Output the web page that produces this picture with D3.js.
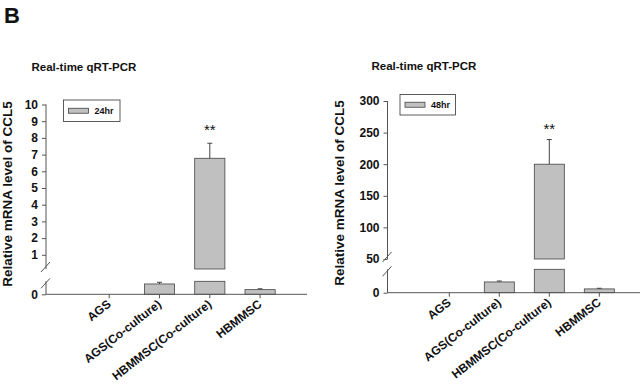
<!DOCTYPE html>
<html><head><meta charset="utf-8">
<script src="https://cdn.jsdelivr.net/npm/d3@7"></script>
<style>
body{margin:0;background:#fff;}
text{font-family:"Liberation Sans",Arial,sans-serif;font-weight:bold;fill:#111;}
</style></head>
<body><svg id="c" width="643" height="387"></svg>
<script>
// ---- data ----
const categories = ["AGS","AGS(Co-culture)","HBMMSC(Co-culture)","HBMMSC"];
const means24 = [0, 0.62, 6.78, 0.28];
const errors24 = [0, 0.1, 0.9, 0.05];
const means48 = [0, 17, 200, 6];
const errors48 = [0, 1.5, 39, 1];
const upperTicks24 = [1,2,3,4,5,6,7,8,9,10];
const lowerTicks24 = [0];
const upperTicks48 = [50,100,150,200,250,300];
const lowerTicks48 = [0];
const legend24 = "24hr", legend48 = "48hr";
const title = "Real-time qRT-PCR";
const yLabel = "Relative mRNA level of CCL5";
const sig = "**";

const svg = d3.select("#c");
svg.append("text").attr("x",4).attr("y",23).style("font-size","22px").text("B");

function panel(o){
  const g = svg.append("g");
  const x = d3.scaleBand().domain(categories).range(o.xr).padding(0.4);
  const yU = d3.scaleLinear().domain(o.upperDom).range(o.upperR);
  const yL = d3.scaleLinear().domain(o.lowerDom).range(o.lowerR);
  const ax = o.axisX, col = "#555";
  g.append("text").attr("x",o.titleX).attr("y",o.titleY).style("font-size","11.5px").text(title);
  g.append("text").attr("transform",`translate(${o.labX},${o.labY}) rotate(-90)`)
    .attr("text-anchor","middle").style("font-size","13.5px").text(yLabel);
  o.means.forEach((v,i)=>{
    const c = categories[i], bx = x(c), bw = x.bandwidth();
    if(v<=0) return;
    const lowTop = Math.min(v, o.lowerDom[1]);
    g.append("rect").attr("x",bx).attr("width",bw)
      .attr("y",yL(lowTop)).attr("height",yL(0)-yL(lowTop))
      .attr("fill","#c0c0c0").attr("stroke","#444").attr("stroke-width",0.8);
    const broken = v>o.lowerDom[1];
    let topY = yL(v);
    if(broken){
      g.append("rect").attr("x",bx).attr("width",bw)
        .attr("y",yU(v)).attr("height",yU(o.upperDom[0])-yU(v))
        .attr("fill","#c0c0c0").attr("stroke","#444").attr("stroke-width",0.8);
      topY = yU(v);
    }
    const e = o.errs[i];
    const sc = broken? yU : yL;
    const cx = bx+bw/2, ey = sc(v+e);
    g.append("line").attr("x1",cx).attr("x2",cx).attr("y1",topY).attr("y2",ey).attr("stroke","#444");
    g.append("line").attr("x1",cx-2.5).attr("x2",cx+2.5).attr("y1",ey).attr("y2",ey).attr("stroke","#444");
    if(i===2){
      g.append("text").attr("x",cx).attr("y",o.sigY).attr("text-anchor","middle")
        .style("font-size","15px").style("font-weight","normal").text(sig);
    }
  });
  const fmt = d3.format("d");
  const aU = g.append("g").attr("transform",`translate(${ax},0)`)
    .call(d3.axisLeft(yU).tickValues(o.upperTicks).tickFormat(fmt).tickSize(4).tickPadding(4));
  const aL = g.append("g").attr("transform",`translate(${ax},0)`)
    .call(d3.axisLeft(yL).tickValues(o.lowerTicks).tickFormat(fmt).tickSize(4).tickPadding(4));
  [aU,aL].forEach(a=>{
    a.select(".domain").remove();
    a.selectAll("line").attr("stroke",col);
    a.selectAll("text").style("font-size","12px").style("font-family","Liberation Sans,Arial,sans-serif").style("font-weight","bold").attr("fill","#111");
  });
  g.append("line").attr("x1",ax).attr("x2",ax).attr("y1",o.upperR[1]).attr("y2",o.upperR[0]).attr("stroke",col);
  g.append("line").attr("x1",ax).attr("x2",ax).attr("y1",o.lowerR[1]).attr("y2",o.lowerR[0]).attr("stroke",col);
  [o.upperR[0], o.lowerR[1]].forEach((yy,k)=>{
    const off = k===0? -2 : 2;
    g.append("line").attr("x1",ax-5).attr("x2",ax+4).attr("y1",yy+off+5).attr("y2",yy+off-5)
      .attr("stroke",col);
  });
  const xa = g.append("g").attr("transform",`translate(0,${o.lowerR[0]})`)
    .call(d3.axisBottom(x).tickSize(4).tickFormat(""));
  xa.select(".domain").remove();
  xa.selectAll("line").attr("stroke",col);
  g.append("line").attr("x1",ax).attr("x2",o.xEnd).attr("y1",o.lowerR[0]).attr("y2",o.lowerR[0]).attr("stroke",col);
  categories.forEach(c=>{
    g.append("text").attr("transform",`translate(${x(c)+x.bandwidth()/2},${o.lowerR[0]+8}) rotate(-38)`)
      .attr("text-anchor","end").attr("dy","0.35em").style("font-size","12px").text(c);
  });
  const L = o.leg;
  g.append("rect").attr("x",L[0]).attr("y",L[1]).attr("width",L[2]).attr("height",L[3])
    .attr("fill","#fff").attr("stroke","#333").attr("stroke-width",0.8);
  g.append("rect").attr("x",L[0]+5).attr("y",L[1]+L[3]/2-2.5).attr("width",20).attr("height",5)
    .attr("fill","#c0c0c0").attr("stroke","#444").attr("stroke-width",0.8);
  g.append("text").attr("x",L[0]+31).attr("y",L[1]+L[3]/2+3.5).style("font-size","9px").text(o.legText);
}

panel({xr:[74,295.3], upperDom:[0.15,10], upperR:[269,104.5], lowerDom:[0,0.78], lowerR:[294.3,281.3],
  axisX:46, xEnd:307, means:means24, errs:errors24, upperTicks:upperTicks24, lowerTicks:lowerTicks24,
  titleX:31.5, titleY:71, labX:12, labY:194, sigY:135, leg:[63.5,100,56.5,21.5], legText:legend24});
panel({xr:[414.3,634.3], upperDom:[50,300], upperR:[259,101], lowerDom:[0,37], lowerR:[292.7,269.3],
  axisX:387.5, xEnd:640, means:means48, errs:errors48, upperTicks:upperTicks48, lowerTicks:lowerTicks48,
  titleX:371.5, titleY:70, labX:344, labY:193, sigY:134, leg:[400,94.5,55.5,20.5], legText:legend48});
</script></body></html>
